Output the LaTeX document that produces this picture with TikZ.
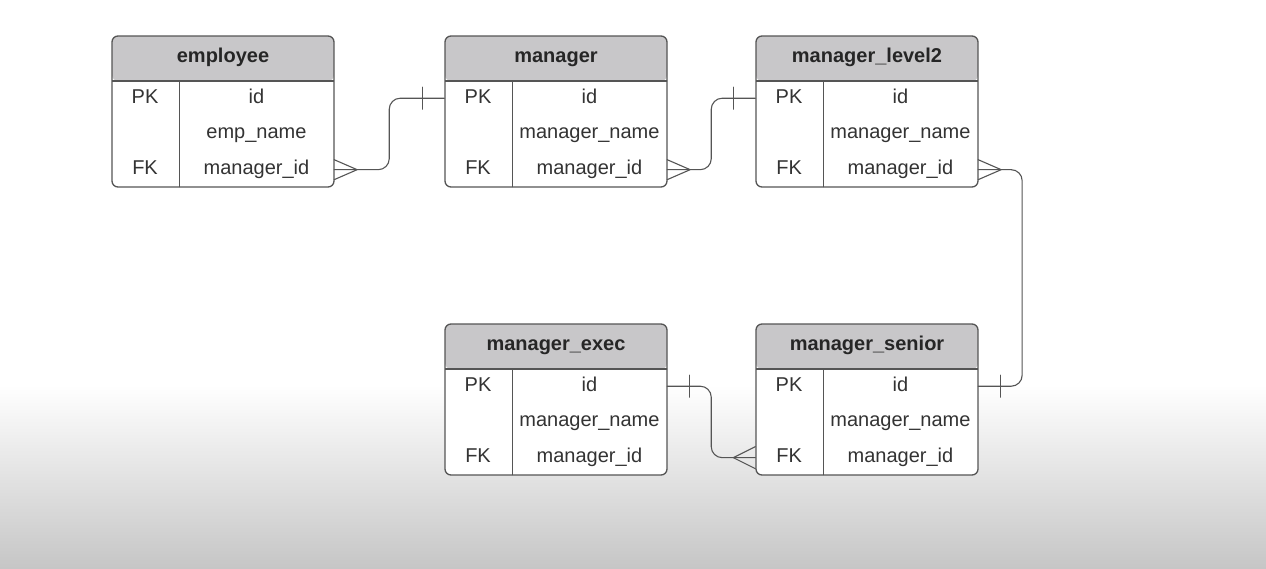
\documentclass[tikz,border=0pt]{standalone}
\usepackage{fontspec}
\setmainfont{Liberation Sans}
\usetikzlibrary{positioning,calc}
\definecolor{hdrgray}{HTML}{C8C7C9}
\definecolor{linegray}{HTML}{555555}
\definecolor{txtgray}{HTML}{333333}
\definecolor{bggray}{HTML}{C6C6C6}

\begin{document}
\begin{tikzpicture}[line cap=round,line join=round,x=1pt,y=-1pt,
  entity/.style={draw=linegray,line width=1.3pt,rounded corners=6pt,fill=white,
    minimum width=222pt,minimum height=151pt,inner sep=0pt,
    path picture={
      \fill[hdrgray] (path picture bounding box.north west) rectangle ([yshift=-45pt]path picture bounding box.north east);
      \draw[linegray,line width=1.3pt] ([yshift=-45pt]path picture bounding box.north west) -- ([yshift=-45pt]path picture bounding box.north east);
      \draw[linegray,line width=1pt] ([xshift=67pt,yshift=-45pt]path picture bounding box.north west) -- ([xshift=67pt]path picture bounding box.south west);}},
  title/.style={font=\fontsize{20}{24}\selectfont\bfseries,text=black!85,text height=14pt,text depth=4pt,inner sep=0pt},
  keycell/.style={minimum width=67pt,minimum height=35.33pt,inner sep=0pt,text height=14pt,text depth=4pt,
    font=\fontsize{20}{24}\selectfont,text=txtgray},
  valcell/.style={keycell,minimum width=155pt},
  rel/.style={draw=linegray,line width=1.1pt,rounded corners=11pt},
  crow/.style={draw=linegray,line width=1.1pt}]
\useasboundingbox (0,0) rectangle (1266,568);
\fill[white] (0,0) rectangle (1266,568);
\shade[top color=white,bottom color=bggray] (0,385) rectangle (1266,568);

% employee
\node[entity] (emp) at (223,111.5) {};
\node[title] (emp-t) at ([yshift=-22.5pt]emp.north) {employee};
\node[keycell,anchor=north west] (emp-k1) at ([yshift=-45pt]emp.north west) {PK};
\node[valcell,right=0pt of emp-k1] (emp-v1) {id};
\node[keycell,below=0pt of emp-k1] (emp-k2) {};
\node[valcell,right=0pt of emp-k2] (emp-v2) {emp\_name};
\node[keycell,below=0pt of emp-k2] (emp-k3) {FK};
\node[valcell,right=0pt of emp-k3] (emp-v3) {manager\_id};

% manager
\node[entity] (mgr) at (556,111.5) {};
\node[title] (mgr-t) at ([yshift=-22.5pt]mgr.north) {manager};
\node[keycell,anchor=north west] (mgr-k1) at ([yshift=-45pt]mgr.north west) {PK};
\node[valcell,right=0pt of mgr-k1] (mgr-v1) {id};
\node[keycell,below=0pt of mgr-k1] (mgr-k2) {};
\node[valcell,right=0pt of mgr-k2] (mgr-v2) {manager\_name};
\node[keycell,below=0pt of mgr-k2] (mgr-k3) {FK};
\node[valcell,right=0pt of mgr-k3] (mgr-v3) {manager\_id};

% manager_level2
\node[entity] (lvl) at (867,111.5) {};
\node[title] (lvl-t) at ([yshift=-22.5pt]lvl.north) {manager\_level2};
\node[keycell,anchor=north west] (lvl-k1) at ([yshift=-45pt]lvl.north west) {PK};
\node[valcell,right=0pt of lvl-k1] (lvl-v1) {id};
\node[keycell,below=0pt of lvl-k1] (lvl-k2) {};
\node[valcell,right=0pt of lvl-k2] (lvl-v2) {manager\_name};
\node[keycell,below=0pt of lvl-k2] (lvl-k3) {FK};
\node[valcell,right=0pt of lvl-k3] (lvl-v3) {manager\_id};

% manager_exec
\node[entity] (exec) at (556,399.5) {};
\node[title] (exec-t) at ([yshift=-22.5pt]exec.north) {manager\_exec};
\node[keycell,anchor=north west] (exec-k1) at ([yshift=-45pt]exec.north west) {PK};
\node[valcell,right=0pt of exec-k1] (exec-v1) {id};
\node[keycell,below=0pt of exec-k1] (exec-k2) {};
\node[valcell,right=0pt of exec-k2] (exec-v2) {manager\_name};
\node[keycell,below=0pt of exec-k2] (exec-k3) {FK};
\node[valcell,right=0pt of exec-k3] (exec-v3) {manager\_id};

% manager_senior
\node[entity] (snr) at (867,399.5) {};
\node[title] (snr-t) at ([yshift=-22.5pt]snr.north) {manager\_senior};
\node[keycell,anchor=north west] (snr-k1) at ([yshift=-45pt]snr.north west) {PK};
\node[valcell,right=0pt of snr-k1] (snr-v1) {id};
\node[keycell,below=0pt of snr-k1] (snr-k2) {};
\node[valcell,right=0pt of snr-k2] (snr-v2) {manager\_name};
\node[keycell,below=0pt of snr-k2] (snr-k3) {FK};
\node[valcell,right=0pt of snr-k3] (snr-v3) {manager\_id};

% relations
\draw[rel] (emp-v3.east) -| ($(emp-v3.east)!0.5!(mgr-k1.west)$) |- (mgr-k1.west);
\draw[crow] ([yshift=10pt]emp-v3.east) -- ([xshift=23pt]emp-v3.east) -- ([yshift=-10pt]emp-v3.east);
\draw[crow] ([xshift=-22pt,yshift=11pt]mgr-k1.west) -- ([xshift=-22pt,yshift=-11pt]mgr-k1.west);

\draw[rel] (mgr-v3.east) -| ($(mgr-v3.east)!0.5!(lvl-k1.west)$) |- (lvl-k1.west);
\draw[crow] ([yshift=10pt]mgr-v3.east) -- ([xshift=23pt]mgr-v3.east) -- ([yshift=-10pt]mgr-v3.east);
\draw[crow] ([xshift=-22pt,yshift=11pt]lvl-k1.west) -- ([xshift=-22pt,yshift=-11pt]lvl-k1.west);

\draw[rel] (lvl-v3.east) -| ([xshift=44pt]snr-v1.east) -- (snr-v1.east);
\draw[crow] ([yshift=10pt]lvl-v3.east) -- ([xshift=23pt]lvl-v3.east) -- ([yshift=-10pt]lvl-v3.east);
\draw[crow] ([xshift=22pt,yshift=11pt]snr-v1.east) -- ([xshift=22pt,yshift=-11pt]snr-v1.east);

\draw[rel] (snr-k3.west) -| ($(snr-k3.west)!0.5!(exec-v1.east)$) |- (exec-v1.east);
\draw[crow] ([yshift=11pt]snr-k3.west) -- ([xshift=-22pt]snr-k3.west) -- ([yshift=-11pt]snr-k3.west);
\draw[crow] ([xshift=22pt,yshift=11pt]exec-v1.east) -- ([xshift=22pt,yshift=-11pt]exec-v1.east);
\end{tikzpicture}
\end{document}
